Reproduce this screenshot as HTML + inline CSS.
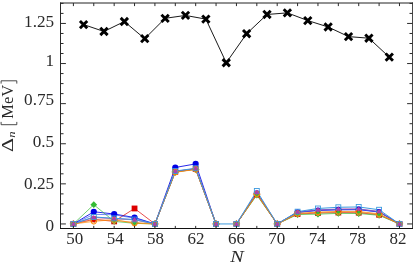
<!DOCTYPE html>
<html><head><meta charset="utf-8"><title>chart</title>
<style>html,body{margin:0;padding:0;background:#fff;}body{width:415px;height:265px;overflow:hidden;position:relative;font-family:"Liberation Serif",serif;}</style>
</head><body>
<svg width="415" height="265" viewBox="0 0 415 265" style="position:absolute;left:0;top:0;will-change:transform">
<rect width="415" height="265" fill="#fff"/>
<polyline points="73.40,223.95 93.78,211.76 114.16,214.01 134.54,217.53 154.92,223.95 175.30,167.49 195.68,163.88 216.06,223.95" fill="none" stroke="#0000e6" stroke-width="0.85" stroke-linejoin="round"/>
<polyline points="236.44,223.95 256.82,193.47 277.20,223.95 297.58,212.40 317.96,210.48 338.34,209.83 358.72,209.67 379.10,212.08 399.48,223.95" fill="none" stroke="#0000e6" stroke-width="0.85" stroke-linejoin="round"/>
<polyline points="73.40,223.95 93.78,219.30 114.16,221.38 134.54,208.47 154.92,223.95 175.30,171.82 195.68,169.09 216.06,223.95" fill="none" stroke="#dd0000" stroke-width="0.7" stroke-linejoin="round"/>
<polyline points="236.44,223.95 256.82,194.44 277.20,223.95 297.58,214.01 317.96,213.04 338.34,212.56 358.72,212.72 379.10,214.81 399.48,223.95" fill="none" stroke="#dd0000" stroke-width="0.7" stroke-linejoin="round"/>
<polyline points="73.40,223.95 93.78,204.70 114.16,221.38 134.54,223.31 154.92,223.95 175.30,171.98 195.68,169.25 216.06,223.95" fill="none" stroke="#33bb33" stroke-width="0.7" stroke-linejoin="round"/>
<polyline points="236.44,223.95 256.82,195.08 277.20,223.95 297.58,214.49 317.96,214.17 338.34,213.36 358.72,213.52 379.10,215.29 399.48,223.95" fill="none" stroke="#33bb33" stroke-width="0.7" stroke-linejoin="round"/>
<polyline points="73.40,223.95 93.78,217.37 114.16,218.66 134.54,219.78 154.92,223.95 175.30,171.34 195.68,168.61 216.06,223.95" fill="none" stroke="#aa3fb5" stroke-width="0.7" stroke-linejoin="round"/>
<polyline points="236.44,223.95 256.82,192.51 277.20,223.95 297.58,212.08 317.96,209.83 338.34,209.03 358.72,208.87 379.10,211.44 399.48,223.95" fill="none" stroke="#aa3fb5" stroke-width="0.7" stroke-linejoin="round"/>
<polyline points="73.40,224.11 93.78,217.53 114.16,218.82 134.54,219.94 154.92,224.11 175.30,171.50 195.68,168.77 216.06,224.11" fill="none" stroke="#d0507a" stroke-width="0.4" stroke-linejoin="round"/>
<polyline points="236.44,224.11 256.82,192.67 277.20,224.11 297.58,212.24 317.96,210.00 338.34,209.19 358.72,209.03 379.10,211.60 399.48,224.11" fill="none" stroke="#d0507a" stroke-width="0.4" stroke-linejoin="round"/>
<polyline points="73.40,223.95 93.78,214.33 114.16,214.81 134.54,218.18 154.92,223.95 175.30,171.50 195.68,168.77 216.06,223.95" fill="none" stroke="#3355ee" stroke-width="0.7" stroke-linejoin="round"/>
<polyline points="236.44,223.95 256.82,192.99 277.20,223.95 297.58,212.24 317.96,210.16 338.34,209.51 358.72,209.35 379.10,211.76 399.48,223.95" fill="none" stroke="#3355ee" stroke-width="0.7" stroke-linejoin="round"/>
<polyline points="73.40,223.95 93.78,219.78 114.16,220.42 134.54,222.35 154.92,223.95 175.30,171.98 195.68,169.25 216.06,223.95" fill="none" stroke="#e8853a" stroke-width="0.7" stroke-linejoin="round"/>
<polyline points="236.44,223.95 256.82,194.12 277.20,223.95 297.58,213.68 317.96,212.56 338.34,211.92 358.72,212.08 379.10,214.33 399.48,223.95" fill="none" stroke="#e8853a" stroke-width="0.7" stroke-linejoin="round"/>
<polyline points="73.40,223.95 93.78,221.38 114.16,219.62 134.54,223.31 154.92,223.95 175.30,172.30 195.68,169.41 216.06,223.95" fill="none" stroke="#ff8800" stroke-width="0.7" stroke-linejoin="round"/>
<polyline points="236.44,223.95 256.82,193.79 277.20,223.95 297.58,213.36 317.96,212.08 338.34,211.44 358.72,211.44 379.10,213.84 399.48,223.95" fill="none" stroke="#ff8800" stroke-width="0.7" stroke-linejoin="round"/>
<polyline points="73.40,223.95 93.78,216.96 114.16,218.34 134.54,219.54 154.92,223.95 175.30,171.02 195.68,168.29 216.06,223.95 236.44,223.95 256.82,190.91 277.20,223.95 297.58,211.66 317.96,208.47 338.34,207.27 358.72,206.95 379.10,209.75 399.48,223.95" fill="none" stroke="#3c9ade" stroke-width="1.0" stroke-linejoin="round"/>
<circle cx="73.40" cy="223.95" r="3.1" fill="#0000e6"/>
<circle cx="93.78" cy="211.76" r="3.1" fill="#0000e6"/>
<circle cx="114.16" cy="214.01" r="3.1" fill="#0000e6"/>
<circle cx="134.54" cy="217.53" r="3.1" fill="#0000e6"/>
<circle cx="154.92" cy="223.95" r="3.1" fill="#0000e6"/>
<circle cx="175.30" cy="167.49" r="3.1" fill="#0000e6"/>
<circle cx="195.68" cy="163.88" r="3.1" fill="#0000e6"/>
<circle cx="216.06" cy="223.95" r="3.1" fill="#0000e6"/>
<circle cx="236.44" cy="223.95" r="3.1" fill="#0000e6"/>
<circle cx="256.82" cy="193.47" r="3.1" fill="#0000e6"/>
<circle cx="277.20" cy="223.95" r="3.1" fill="#0000e6"/>
<circle cx="297.58" cy="212.40" r="3.1" fill="#0000e6"/>
<circle cx="317.96" cy="210.48" r="3.1" fill="#0000e6"/>
<circle cx="338.34" cy="209.83" r="3.1" fill="#0000e6"/>
<circle cx="358.72" cy="209.67" r="3.1" fill="#0000e6"/>
<circle cx="379.10" cy="212.08" r="3.1" fill="#0000e6"/>
<circle cx="399.48" cy="223.95" r="3.1" fill="#0000e6"/>
<rect x="70.50" y="221.05" width="5.8" height="5.8" fill="#dd0000"/>
<rect x="90.88" y="216.40" width="5.8" height="5.8" fill="#dd0000"/>
<rect x="111.26" y="218.48" width="5.8" height="5.8" fill="#dd0000"/>
<rect x="131.64" y="205.57" width="5.8" height="5.8" fill="#dd0000"/>
<rect x="152.02" y="221.05" width="5.8" height="5.8" fill="#dd0000"/>
<rect x="172.40" y="168.92" width="5.8" height="5.8" fill="#dd0000"/>
<rect x="192.78" y="166.19" width="5.8" height="5.8" fill="#dd0000"/>
<rect x="213.16" y="221.05" width="5.8" height="5.8" fill="#dd0000"/>
<rect x="233.54" y="221.05" width="5.8" height="5.8" fill="#dd0000"/>
<rect x="253.92" y="191.54" width="5.8" height="5.8" fill="#dd0000"/>
<rect x="274.30" y="221.05" width="5.8" height="5.8" fill="#dd0000"/>
<rect x="294.68" y="211.11" width="5.8" height="5.8" fill="#dd0000"/>
<rect x="315.06" y="210.14" width="5.8" height="5.8" fill="#dd0000"/>
<rect x="335.44" y="209.66" width="5.8" height="5.8" fill="#dd0000"/>
<rect x="355.82" y="209.82" width="5.8" height="5.8" fill="#dd0000"/>
<rect x="376.20" y="211.91" width="5.8" height="5.8" fill="#dd0000"/>
<rect x="396.58" y="221.05" width="5.8" height="5.8" fill="#dd0000"/>
<path d="M73.40 220.55L76.80 223.95L73.40 227.35L70.00 223.95Z" fill="#33bb33"/>
<path d="M93.78 201.30L97.18 204.70L93.78 208.10L90.38 204.70Z" fill="#33bb33"/>
<path d="M114.16 217.98L117.56 221.38L114.16 224.78L110.76 221.38Z" fill="#33bb33"/>
<path d="M134.54 219.91L137.94 223.31L134.54 226.71L131.14 223.31Z" fill="#33bb33"/>
<path d="M154.92 220.55L158.32 223.95L154.92 227.35L151.52 223.95Z" fill="#33bb33"/>
<path d="M175.30 168.58L178.70 171.98L175.30 175.38L171.90 171.98Z" fill="#33bb33"/>
<path d="M195.68 165.85L199.08 169.25L195.68 172.65L192.28 169.25Z" fill="#33bb33"/>
<path d="M216.06 220.55L219.46 223.95L216.06 227.35L212.66 223.95Z" fill="#33bb33"/>
<path d="M236.44 220.55L239.84 223.95L236.44 227.35L233.04 223.95Z" fill="#33bb33"/>
<path d="M256.82 191.68L260.22 195.08L256.82 198.48L253.42 195.08Z" fill="#33bb33"/>
<path d="M277.20 220.55L280.60 223.95L277.20 227.35L273.80 223.95Z" fill="#33bb33"/>
<path d="M297.58 211.09L300.98 214.49L297.58 217.89L294.18 214.49Z" fill="#33bb33"/>
<path d="M317.96 210.77L321.36 214.17L317.96 217.57L314.56 214.17Z" fill="#33bb33"/>
<path d="M338.34 209.96L341.74 213.36L338.34 216.76L334.94 213.36Z" fill="#33bb33"/>
<path d="M358.72 210.12L362.12 213.52L358.72 216.92L355.32 213.52Z" fill="#33bb33"/>
<path d="M379.10 211.89L382.50 215.29L379.10 218.69L375.70 215.29Z" fill="#33bb33"/>
<path d="M399.48 220.55L402.88 223.95L399.48 227.35L396.08 223.95Z" fill="#33bb33"/>
<path d="M73.40 220.45L76.90 223.95L73.40 227.45L69.90 223.95Z" fill="none" stroke="#e8853a" stroke-width="0.9"/>
<path d="M93.78 216.28L97.28 219.78L93.78 223.28L90.28 219.78Z" fill="none" stroke="#e8853a" stroke-width="0.9"/>
<path d="M114.16 216.92L117.66 220.42L114.16 223.92L110.66 220.42Z" fill="none" stroke="#e8853a" stroke-width="0.9"/>
<path d="M134.54 218.85L138.04 222.35L134.54 225.85L131.04 222.35Z" fill="none" stroke="#e8853a" stroke-width="0.9"/>
<path d="M154.92 220.45L158.42 223.95L154.92 227.45L151.42 223.95Z" fill="none" stroke="#e8853a" stroke-width="0.9"/>
<path d="M175.30 168.48L178.80 171.98L175.30 175.48L171.80 171.98Z" fill="none" stroke="#e8853a" stroke-width="0.9"/>
<path d="M195.68 165.75L199.18 169.25L195.68 172.75L192.18 169.25Z" fill="none" stroke="#e8853a" stroke-width="0.9"/>
<path d="M216.06 220.45L219.56 223.95L216.06 227.45L212.56 223.95Z" fill="none" stroke="#e8853a" stroke-width="0.9"/>
<path d="M236.44 220.45L239.94 223.95L236.44 227.45L232.94 223.95Z" fill="none" stroke="#e8853a" stroke-width="0.9"/>
<path d="M256.82 190.62L260.32 194.12L256.82 197.62L253.32 194.12Z" fill="none" stroke="#e8853a" stroke-width="0.9"/>
<path d="M277.20 220.45L280.70 223.95L277.20 227.45L273.70 223.95Z" fill="none" stroke="#e8853a" stroke-width="0.9"/>
<path d="M297.58 210.18L301.08 213.68L297.58 217.18L294.08 213.68Z" fill="none" stroke="#e8853a" stroke-width="0.9"/>
<path d="M317.96 209.06L321.46 212.56L317.96 216.06L314.46 212.56Z" fill="none" stroke="#e8853a" stroke-width="0.9"/>
<path d="M338.34 208.42L341.84 211.92L338.34 215.42L334.84 211.92Z" fill="none" stroke="#e8853a" stroke-width="0.9"/>
<path d="M358.72 208.58L362.22 212.08L358.72 215.58L355.22 212.08Z" fill="none" stroke="#e8853a" stroke-width="0.9"/>
<path d="M379.10 210.83L382.60 214.33L379.10 217.83L375.60 214.33Z" fill="none" stroke="#e8853a" stroke-width="0.9"/>
<path d="M399.48 220.45L402.98 223.95L399.48 227.45L395.98 223.95Z" fill="none" stroke="#e8853a" stroke-width="0.9"/>
<circle cx="73.40" cy="223.95" r="2.7" fill="none" stroke="#ff8800" stroke-width="1"/>
<circle cx="93.78" cy="221.38" r="2.7" fill="none" stroke="#ff8800" stroke-width="1"/>
<circle cx="114.16" cy="219.62" r="2.7" fill="none" stroke="#ff8800" stroke-width="1"/>
<circle cx="134.54" cy="223.31" r="2.7" fill="none" stroke="#ff8800" stroke-width="1"/>
<circle cx="154.92" cy="223.95" r="2.7" fill="none" stroke="#ff8800" stroke-width="1"/>
<circle cx="175.30" cy="172.30" r="2.7" fill="none" stroke="#ff8800" stroke-width="1"/>
<circle cx="195.68" cy="169.41" r="2.7" fill="none" stroke="#ff8800" stroke-width="1"/>
<circle cx="216.06" cy="223.95" r="2.7" fill="none" stroke="#ff8800" stroke-width="1"/>
<circle cx="236.44" cy="223.95" r="2.7" fill="none" stroke="#ff8800" stroke-width="1"/>
<circle cx="256.82" cy="193.79" r="2.7" fill="none" stroke="#ff8800" stroke-width="1"/>
<circle cx="277.20" cy="223.95" r="2.7" fill="none" stroke="#ff8800" stroke-width="1"/>
<circle cx="297.58" cy="213.36" r="2.7" fill="none" stroke="#ff8800" stroke-width="1"/>
<circle cx="317.96" cy="212.08" r="2.7" fill="none" stroke="#ff8800" stroke-width="1"/>
<circle cx="338.34" cy="211.44" r="2.7" fill="none" stroke="#ff8800" stroke-width="1"/>
<circle cx="358.72" cy="211.44" r="2.7" fill="none" stroke="#ff8800" stroke-width="1"/>
<circle cx="379.10" cy="213.84" r="2.7" fill="none" stroke="#ff8800" stroke-width="1"/>
<circle cx="399.48" cy="223.95" r="2.7" fill="none" stroke="#ff8800" stroke-width="1"/>
<path d="M73.40 226.51L75.40 222.71L71.40 222.71Z" fill="#d0507a"/>
<path d="M93.78 219.93L95.78 216.13L91.78 216.13Z" fill="#d0507a"/>
<path d="M114.16 221.22L116.16 217.42L112.16 217.42Z" fill="#d0507a"/>
<path d="M134.54 222.34L136.54 218.54L132.54 218.54Z" fill="#d0507a"/>
<path d="M154.92 226.51L156.92 222.71L152.92 222.71Z" fill="#d0507a"/>
<path d="M175.30 173.90L177.30 170.10L173.30 170.10Z" fill="#d0507a"/>
<path d="M195.68 171.17L197.68 167.37L193.68 167.37Z" fill="#d0507a"/>
<path d="M216.06 226.51L218.06 222.71L214.06 222.71Z" fill="#d0507a"/>
<path d="M236.44 226.51L238.44 222.71L234.44 222.71Z" fill="#d0507a"/>
<path d="M256.82 195.07L258.82 191.27L254.82 191.27Z" fill="#d0507a"/>
<path d="M277.20 226.51L279.20 222.71L275.20 222.71Z" fill="#d0507a"/>
<path d="M297.58 214.64L299.58 210.84L295.58 210.84Z" fill="#d0507a"/>
<path d="M317.96 212.40L319.96 208.60L315.96 208.60Z" fill="#d0507a"/>
<path d="M338.34 211.59L340.34 207.79L336.34 207.79Z" fill="#d0507a"/>
<path d="M358.72 211.43L360.72 207.63L356.72 207.63Z" fill="#d0507a"/>
<path d="M379.10 214.00L381.10 210.20L377.10 210.20Z" fill="#d0507a"/>
<path d="M399.48 226.51L401.48 222.71L397.48 222.71Z" fill="#d0507a"/>
<rect x="70.95" y="221.50" width="4.9" height="4.9" fill="#fff" fill-opacity="0.0" stroke="#3c9ade" stroke-width="0.9"/>
<rect x="91.33" y="214.51" width="4.9" height="4.9" fill="#fff" fill-opacity="0.0" stroke="#3c9ade" stroke-width="0.9"/>
<rect x="111.71" y="215.89" width="4.9" height="4.9" fill="#fff" fill-opacity="0.0" stroke="#3c9ade" stroke-width="0.9"/>
<rect x="132.09" y="217.09" width="4.9" height="4.9" fill="#fff" fill-opacity="0.0" stroke="#3c9ade" stroke-width="0.9"/>
<rect x="152.47" y="221.50" width="4.9" height="4.9" fill="#fff" fill-opacity="0.0" stroke="#3c9ade" stroke-width="0.9"/>
<rect x="172.85" y="168.57" width="4.9" height="4.9" fill="#fff" fill-opacity="0.0" stroke="#3c9ade" stroke-width="0.9"/>
<rect x="193.23" y="165.84" width="4.9" height="4.9" fill="#fff" fill-opacity="0.0" stroke="#3c9ade" stroke-width="0.9"/>
<rect x="213.61" y="221.50" width="4.9" height="4.9" fill="#fff" fill-opacity="0.0" stroke="#3c9ade" stroke-width="0.9"/>
<rect x="233.99" y="221.50" width="4.9" height="4.9" fill="#fff" fill-opacity="0.0" stroke="#3c9ade" stroke-width="0.9"/>
<rect x="254.37" y="188.46" width="4.9" height="4.9" fill="#fff" fill-opacity="0.0" stroke="#3c9ade" stroke-width="0.9"/>
<rect x="274.75" y="221.50" width="4.9" height="4.9" fill="#fff" fill-opacity="0.0" stroke="#3c9ade" stroke-width="0.9"/>
<rect x="295.13" y="209.21" width="4.9" height="4.9" fill="#fff" fill-opacity="0.0" stroke="#3c9ade" stroke-width="0.9"/>
<rect x="315.51" y="206.02" width="4.9" height="4.9" fill="#fff" fill-opacity="0.0" stroke="#3c9ade" stroke-width="0.9"/>
<rect x="335.89" y="204.82" width="4.9" height="4.9" fill="#fff" fill-opacity="0.0" stroke="#3c9ade" stroke-width="0.9"/>
<rect x="356.27" y="204.50" width="4.9" height="4.9" fill="#fff" fill-opacity="0.0" stroke="#3c9ade" stroke-width="0.9"/>
<rect x="376.65" y="207.30" width="4.9" height="4.9" fill="#fff" fill-opacity="0.0" stroke="#3c9ade" stroke-width="0.9"/>
<rect x="397.03" y="221.50" width="4.9" height="4.9" fill="#fff" fill-opacity="0.0" stroke="#3c9ade" stroke-width="0.9"/>
<path d="M73.40 221.25L75.70 225.65L71.10 225.65Z" fill="#aa3fb5"/>
<path d="M93.78 214.67L96.08 219.07L91.48 219.07Z" fill="#aa3fb5"/>
<path d="M114.16 215.96L116.46 220.36L111.86 220.36Z" fill="#aa3fb5"/>
<path d="M134.54 217.08L136.84 221.48L132.24 221.48Z" fill="#aa3fb5"/>
<path d="M154.92 221.25L157.22 225.65L152.62 225.65Z" fill="#aa3fb5"/>
<path d="M175.30 168.64L177.60 173.04L173.00 173.04Z" fill="#aa3fb5"/>
<path d="M195.68 165.91L197.98 170.31L193.38 170.31Z" fill="#aa3fb5"/>
<path d="M216.06 221.25L218.36 225.65L213.76 225.65Z" fill="#aa3fb5"/>
<path d="M236.44 221.25L238.74 225.65L234.14 225.65Z" fill="#aa3fb5"/>
<path d="M256.82 189.81L259.12 194.21L254.52 194.21Z" fill="#aa3fb5"/>
<path d="M277.20 221.25L279.50 225.65L274.90 225.65Z" fill="#aa3fb5"/>
<path d="M297.58 209.38L299.88 213.78L295.28 213.78Z" fill="#aa3fb5"/>
<path d="M317.96 207.13L320.26 211.53L315.66 211.53Z" fill="#aa3fb5"/>
<path d="M338.34 206.33L340.64 210.73L336.04 210.73Z" fill="#aa3fb5"/>
<path d="M358.72 206.17L361.02 210.57L356.42 210.57Z" fill="#aa3fb5"/>
<path d="M379.10 208.74L381.40 213.14L376.80 213.14Z" fill="#aa3fb5"/>
<path d="M399.48 221.25L401.78 225.65L397.18 225.65Z" fill="#aa3fb5"/>
<polyline points="83.59,24.57 103.97,31.47 124.35,21.53 144.73,38.69 165.11,18.32 185.49,15.43 205.87,19.12 226.25,62.75 246.63,33.72 267.01,14.47 287.39,12.86 307.77,20.56 328.15,26.98 348.53,36.60 368.91,38.21 389.29,57.13" fill="none" stroke="#000" stroke-width="0.9" stroke-linejoin="round"/>
<path d="M79.94 20.92L87.24 28.22M79.94 28.22L87.24 20.92" stroke="#000" stroke-width="2.9" fill="none"/>
<path d="M100.32 27.82L107.62 35.12M100.32 35.12L107.62 27.82" stroke="#000" stroke-width="2.9" fill="none"/>
<path d="M120.70 17.88L128.00 25.18M120.70 25.18L128.00 17.88" stroke="#000" stroke-width="2.9" fill="none"/>
<path d="M141.08 35.04L148.38 42.34M141.08 42.34L148.38 35.04" stroke="#000" stroke-width="2.9" fill="none"/>
<path d="M161.46 14.67L168.76 21.97M161.46 21.97L168.76 14.67" stroke="#000" stroke-width="2.9" fill="none"/>
<path d="M181.84 11.78L189.14 19.08M181.84 19.08L189.14 11.78" stroke="#000" stroke-width="2.9" fill="none"/>
<path d="M202.22 15.47L209.52 22.77M202.22 22.77L209.52 15.47" stroke="#000" stroke-width="2.9" fill="none"/>
<path d="M222.60 59.10L229.90 66.40M222.60 66.40L229.90 59.10" stroke="#000" stroke-width="2.9" fill="none"/>
<path d="M242.98 30.07L250.28 37.37M242.98 37.37L250.28 30.07" stroke="#000" stroke-width="2.9" fill="none"/>
<path d="M263.36 10.82L270.66 18.12M263.36 18.12L270.66 10.82" stroke="#000" stroke-width="2.9" fill="none"/>
<path d="M283.74 9.21L291.04 16.51M283.74 16.51L291.04 9.21" stroke="#000" stroke-width="2.9" fill="none"/>
<path d="M304.12 16.91L311.42 24.21M304.12 24.21L311.42 16.91" stroke="#000" stroke-width="2.9" fill="none"/>
<path d="M324.50 23.33L331.80 30.63M324.50 30.63L331.80 23.33" stroke="#000" stroke-width="2.9" fill="none"/>
<path d="M344.88 32.95L352.18 40.25M344.88 40.25L352.18 32.95" stroke="#000" stroke-width="2.9" fill="none"/>
<path d="M365.26 34.56L372.56 41.86M365.26 41.86L372.56 34.56" stroke="#000" stroke-width="2.9" fill="none"/>
<path d="M385.64 53.48L392.94 60.78M385.64 60.78L392.94 53.48" stroke="#000" stroke-width="2.9" fill="none"/>
<path d="M60.5 2.5V229.0" stroke="#2a2a2a" stroke-width="1" fill="none"/>
<path d="M412.5 2.5V229.0" stroke="#4a4a4a" stroke-width="1" fill="none"/>
<path d="M60.0 3.0H413.0" stroke="#222" stroke-width="1" fill="none"/>
<path d="M60.0 228.5H413.0" stroke="#111" stroke-width="1" fill="none"/>
<path d="M73.40 228.5V225.9M73.40 3.0V6.1M93.78 228.5V225.9M93.78 3.0V6.1M114.16 228.5V225.9M114.16 3.0V6.1M134.54 228.5V225.9M134.54 3.0V6.1M154.92 228.5V225.9M154.92 3.0V6.1M175.30 228.5V225.9M175.30 3.0V6.1M195.68 228.5V225.9M195.68 3.0V6.1M216.06 228.5V225.9M216.06 3.0V6.1M236.44 228.5V225.9M236.44 3.0V6.1M256.82 228.5V225.9M256.82 3.0V6.1M277.20 228.5V225.9M277.20 3.0V6.1M297.58 228.5V225.9M297.58 3.0V6.1M317.96 228.5V225.9M317.96 3.0V6.1M338.34 228.5V225.9M338.34 3.0V6.1M358.72 228.5V225.9M358.72 3.0V6.1M379.10 228.5V225.9M379.10 3.0V6.1M399.48 228.5V225.9M399.48 3.0V6.1M60.5 223.95H65.9M412.5 223.95H407.1M60.5 213.92H63.5M412.5 213.92H409.5M60.5 203.90H63.5M412.5 203.90H409.5M60.5 193.88H63.5M412.5 193.88H409.5M60.5 183.85H65.9M412.5 183.85H407.1M60.5 173.82H63.5M412.5 173.82H409.5M60.5 163.80H63.5M412.5 163.80H409.5M60.5 153.77H63.5M412.5 153.77H409.5M60.5 143.75H65.9M412.5 143.75H407.1M60.5 133.72H63.5M412.5 133.72H409.5M60.5 123.70H63.5M412.5 123.70H409.5M60.5 113.67H63.5M412.5 113.67H409.5M60.5 103.65H65.9M412.5 103.65H407.1M60.5 93.62H63.5M412.5 93.62H409.5M60.5 83.60H63.5M412.5 83.60H409.5M60.5 73.57H63.5M412.5 73.57H409.5M60.5 63.55H65.9M412.5 63.55H407.1M60.5 53.52H63.5M412.5 53.52H409.5M60.5 43.50H63.5M412.5 43.50H409.5M60.5 33.47H63.5M412.5 33.47H409.5M60.5 23.45H65.9M412.5 23.45H407.1M60.5 13.42H63.5M412.5 13.42H409.5M60.5 3.40H63.5M412.5 3.40H409.5" stroke="#2a2a2a" stroke-width="1.0" fill="none"/>
<g transform="translate(74.80,243.5) scale(1.03,1)"><text x="0" y="0" font-size="16.5" font-family="Liberation Serif, serif" text-anchor="middle" fill="#2a2a2a">50</text></g>
<g transform="translate(115.20,243.5) scale(1.03,1)"><text x="0" y="0" font-size="16.5" font-family="Liberation Serif, serif" text-anchor="middle" fill="#2a2a2a">54</text></g>
<g transform="translate(155.60,243.5) scale(1.03,1)"><text x="0" y="0" font-size="16.5" font-family="Liberation Serif, serif" text-anchor="middle" fill="#2a2a2a">58</text></g>
<g transform="translate(196.00,243.5) scale(1.03,1)"><text x="0" y="0" font-size="16.5" font-family="Liberation Serif, serif" text-anchor="middle" fill="#2a2a2a">62</text></g>
<g transform="translate(236.40,243.5) scale(1.03,1)"><text x="0" y="0" font-size="16.5" font-family="Liberation Serif, serif" text-anchor="middle" fill="#2a2a2a">66</text></g>
<g transform="translate(276.80,243.5) scale(1.03,1)"><text x="0" y="0" font-size="16.5" font-family="Liberation Serif, serif" text-anchor="middle" fill="#2a2a2a">70</text></g>
<g transform="translate(317.20,243.5) scale(1.03,1)"><text x="0" y="0" font-size="16.5" font-family="Liberation Serif, serif" text-anchor="middle" fill="#2a2a2a">74</text></g>
<g transform="translate(357.60,243.5) scale(1.03,1)"><text x="0" y="0" font-size="16.5" font-family="Liberation Serif, serif" text-anchor="middle" fill="#2a2a2a">78</text></g>
<g transform="translate(398.00,243.5) scale(1.03,1)"><text x="0" y="0" font-size="16.5" font-family="Liberation Serif, serif" text-anchor="middle" fill="#2a2a2a">82</text></g>
<g transform="translate(54.1,26.6) scale(1.04,1)"><text x="0" y="0" font-size="16.5" font-family="Liberation Serif, serif" text-anchor="end" fill="#2a2a2a">1.25</text></g>
<g transform="translate(54.1,65.8) scale(1.04,1)"><text x="0" y="0" font-size="16.5" font-family="Liberation Serif, serif" text-anchor="end" fill="#2a2a2a">1</text></g>
<g transform="translate(54.1,105.3) scale(1.04,1)"><text x="0" y="0" font-size="16.5" font-family="Liberation Serif, serif" text-anchor="end" fill="#2a2a2a">0.75</text></g>
<g transform="translate(54.1,147.3) scale(1.04,1)"><text x="0" y="0" font-size="16.5" font-family="Liberation Serif, serif" text-anchor="end" fill="#2a2a2a">0.5</text></g>
<g transform="translate(54.1,189.4) scale(1.04,1)"><text x="0" y="0" font-size="16.5" font-family="Liberation Serif, serif" text-anchor="end" fill="#2a2a2a">0.25</text></g>
<g transform="translate(54.1,230.6) scale(1.04,1)"><text x="0" y="0" font-size="16.5" font-family="Liberation Serif, serif" text-anchor="end" fill="#2a2a2a">0</text></g>
<g transform="translate(236.9,262) scale(1.22,1)"><text x="0" y="0" font-size="16.5" font-family="Liberation Serif, serif" font-style="italic" text-anchor="middle" fill="#2a2a2a">N</text></g>
<g transform="translate(13.1,151) rotate(-90)" fill="#2a2a2a" font-family="Liberation Serif, serif"><g transform="translate(-0.9,0) scale(1.21,0.93)"><text x="0" y="0" font-size="18">Δ</text></g><g transform="translate(13.3,2.1) scale(1.2,1)"><text x="0" y="0" font-size="10.5" font-style="italic">n</text></g><text x="32.3" y="0" font-size="16.5">MeV</text><path d="M29.1 -12H26.3V3.7H29.1M67.4 -12H70.2V3.7H67.4" stroke="#2a2a2a" stroke-width="0.85" fill="none"/></g>
</svg>
</body></html>
